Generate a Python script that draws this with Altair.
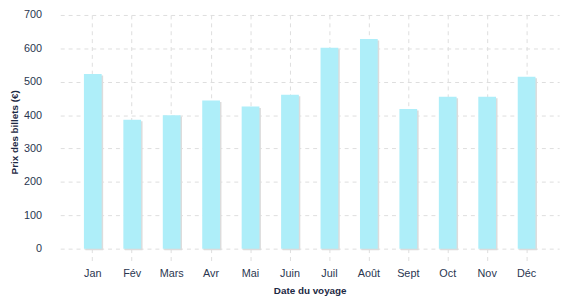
import altair as alt
import pandas as pd

mois = ["Jan", "Fév", "Mars", "Avr", "Mai", "Juin", "Juil", "Août", "Sept", "Oct", "Nov", "Déc"]
prix = [523, 386, 400, 444, 426, 461, 602, 628, 418, 455, 455, 515]

df = pd.DataFrame({"mois": mois, "prix": prix})

txt = "#2a3650"
x = alt.X("mois:N", sort=mois, title="Date du voyage",
          scale=alt.Scale(paddingInner=0.55, paddingOuter=0.6),
          axis=alt.Axis(bandPosition=0.5, labelAngle=0, grid=True, gridDash=[4, 4],
                        gridColor="#dddddd", domain=False, ticks=True, tickSize=15,
                        tickDash=[4, 4], tickColor="#dddddd", labelPadding=4,
                        titlePadding=8))
y = alt.Y("prix:Q", title="Prix des billets (€)",
          scale=alt.Scale(domain=[0, 700]),
          axis=alt.Axis(values=[0, 100, 200, 300, 400, 500, 600, 700], grid=True,
                        gridDash=[4, 4], gridColor="#dddddd", domain=False,
                        ticks=False, labelPadding=19, titlePadding=4))

shadow = alt.Chart(df).mark_bar(color="#dcdcdc", xOffset=1.5, yOffset=1.5).encode(x=x, y=y)
bars = alt.Chart(df).mark_bar(color="#aeeef9").encode(x=x, y=y)

chart = alt.layer(shadow, bars).properties(
    width=506, height=237,
    autosize=alt.AutoSizeParams(type="none"),
    padding={"left": 53, "top": 5, "right": 10, "bottom": 50},
).configure_axis(
    labelFont="Liberation Sans", labelFontSize=11, labelColor=txt,
    titleFont="Liberation Sans", titleFontSize=10, titleFontWeight="bold", titleColor="#1d2944",
).configure_view(stroke=None)

chart.save("out.html", embed_options={"renderer": "svg", "actions": False})
